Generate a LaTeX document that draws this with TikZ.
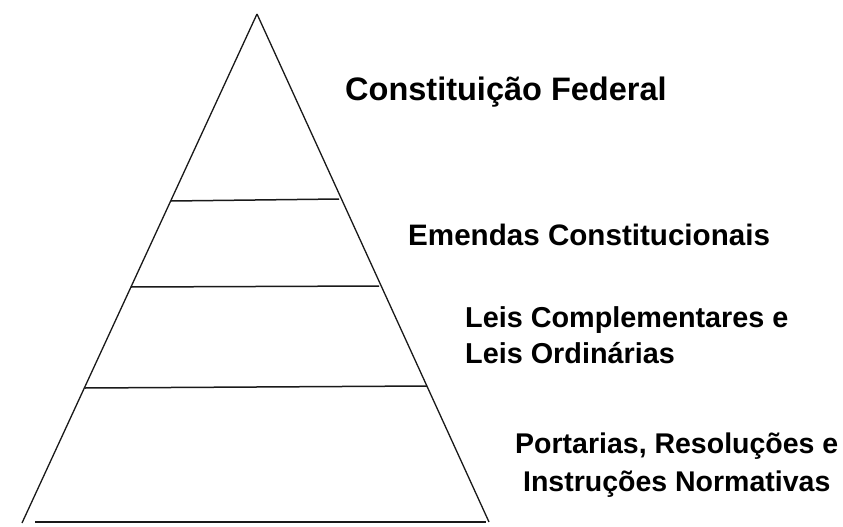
\documentclass[tikz,border=0pt]{standalone}
\usepackage{fontspec}
\setmainfont{Liberation Sans}
\usepackage{tikz}
\tikzstyle{edge} = [draw,line width=1.3pt,black!90,-]
\tikzstyle{level} = [draw,line width=1.5pt,black!90,-]
\tikzstyle{label} = [inner sep=0pt,anchor=base west,font=\bfseries\fontsize{29}{36}\selectfont]

\begin{document}
\begin{tikzpicture}[x=1pt,y=-1pt]
        \useasboundingbox (0,0) rectangle (843,527);
        % corners of the pyramid
        \coordinate (top) at (257,14);
        \coordinate (bl) at (22,523);
        \coordinate (br) at (489,522);
        \coordinate (b0) at (35,522);
        \coordinate (b1) at (486,522);
        % ends of the levels
        \coordinate (l1) at (171,201);
        \coordinate (r1) at (339,199);
        \coordinate (l2) at (131,287);
        \coordinate (r2) at (379,286);
        \coordinate (l3) at (85,388);
        \coordinate (r3) at (427,386);
        \draw[edge] (top) to (bl);
        \draw[edge] (top) to (br);
        \draw[level] (b0) to (b1);
        \draw[level] (l1) to (r1);
        \draw[level] (l2) to (r2);
        \draw[level] (l3) to (r3);
        % labels (multi-line ones sit on their last baseline)
        \node[label,font=\bfseries\fontsize{32.5}{38}\selectfont] (cf) at (345,100) {Constitui\c{c}\~ao Federal};
        \node[label,font=\bfseries\fontsize{29.6}{36}\selectfont] (ec) at (408,245) {Emendas Constitucionais};
        \node[label,align=left,font=\bfseries\fontsize{28.8}{36}\selectfont] (lc) at (465,363) {Leis Complementares e\\Leis Ordin\'arias};
        \node[label,align=center,font=\bfseries\fontsize{28.5}{38}\selectfont] (pr) at (515,491) {Portarias, Resolu\c{c}\~oes e\\Instru\c{c}\~oes Normativas};
      \end{tikzpicture}
\end{document}
